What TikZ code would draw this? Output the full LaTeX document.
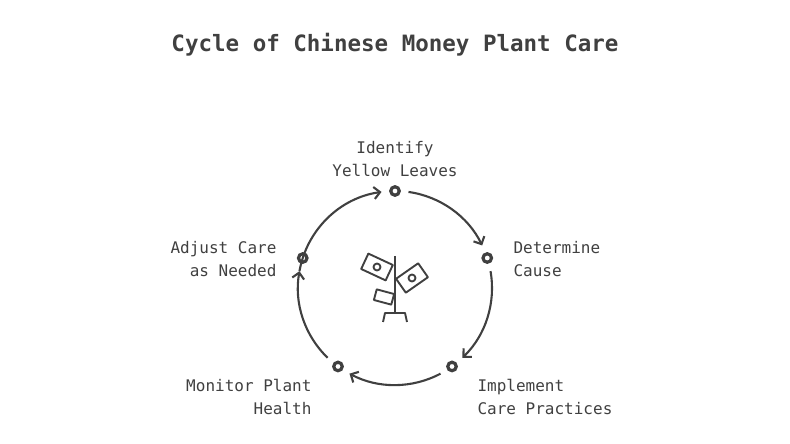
\documentclass[tikz,border=0pt]{standalone}
\usepackage{fontspec}
\setmainfont{DejaVu Sans Mono}
\usetikzlibrary{arrows.meta}
\definecolor{ink}{HTML}{404040}
\begin{document}
\begin{tikzpicture}[x=1pt,y=1pt,
  dot/.style={circle,draw=ink,line width=3.2pt,fill=white,inner sep=0pt,minimum size=8.5pt},
  arcs/.style={draw=ink,line width=2.1pt,-{Straight Barb[length=6pt,width=12pt]}},
  lbl/.style={text=ink,font=\fontsize{16}{23}\selectfont},
  icon/.style={draw=ink,line width=1.9pt,line join=round},
  bill/.style={icon,rectangle,minimum width=27pt,minimum height=17pt,inner sep=0pt}]
\useasboundingbox (0,0) rectangle (790,444);
\node[text=ink,font=\bfseries\fontsize{22.5}{26}\selectfont] (title) at (395,399) {Cycle of Chinese Money Plant Care};
\begin{scope}[shift={(395,156)}]
\node[dot] (p1) at (90:97) {};
\node[dot] (p2) at (18:97) {};
\node[dot] (p3) at (-54:97) {};
\node[dot] (p4) at (-126:97) {};
\node[dot] (p5) at (162:97) {};
\draw[arcs] (82:97) arc[start angle=82,end angle=26,radius=97];
\draw[arcs] (10:97) arc[start angle=10,end angle=-46,radius=97];
\draw[arcs] (-62:97) arc[start angle=-62,end angle=-118,radius=97];
\draw[arcs] (-134:97) arc[start angle=-134,end angle=-190,radius=97];
\draw[arcs] (170:97) arc[start angle=170,end angle=98,radius=97];
% icon
\draw[icon] (0,32) -- (0,-25);
\draw[icon] (-12,-34) -- (-10,-25) -- (10,-25) -- (12,-34);
\node[bill,rotate=-25] (b1) at (-18,21) {};
\draw[icon] (b1.center) circle (3.5);
\node[bill,rotate=35] (b2) at (17,10) {};
\draw[icon] (b2.center) circle (3.5);
\node[icon,rectangle,minimum width=18pt,minimum height=11pt,inner sep=0pt,rotate=-15] (b3) at (-11,-9) {};
\end{scope}
\node[lbl,align=center,anchor=south] (l1) at (395,264) {Identify\\Yellow Leaves};
\node[lbl,align=left,anchor=west] (l2) at (510,185) {Determine\\Cause};
\node[lbl,align=left,anchor=west] (l3) at (474,47) {Implement\\Care Practices};
\node[lbl,align=right,anchor=east] (l4) at (315,47) {Monitor Plant\\Health};
\node[lbl,align=right,anchor=east] (l5) at (280,185) {Adjust Care\\as Needed};
\end{tikzpicture}
\end{document}
